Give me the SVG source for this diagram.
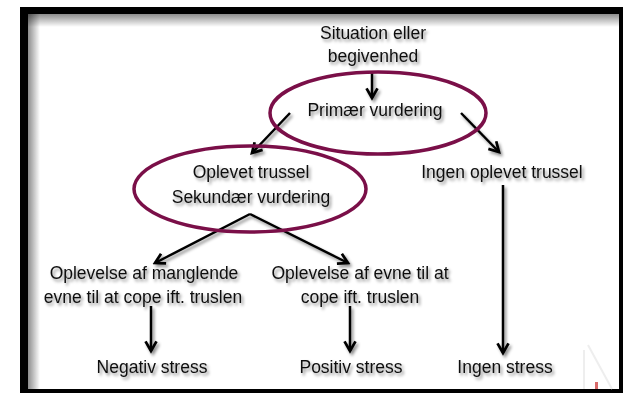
<svg xmlns="http://www.w3.org/2000/svg" width="623" height="393" viewBox="0 0 623 393">
<style>
text{font-family:"Liberation Sans",Arial,sans-serif;font-size:17.5px;fill:#111;text-anchor:middle}
.lbl{filter:url(#sh)}
.ell{fill:none;stroke:#7a0f48;stroke-width:3.5}
.con line{stroke:#000;stroke-width:2.5;marker-end:url(#ah)}
</style>
<defs>
<filter id="sh" x="-20%" y="-40%" width="140%" height="180%">
<feDropShadow dx="2" dy="2.5" stdDeviation="1.6" flood-color="#000" flood-opacity="0.45"/>
</filter>
<marker id="ah" viewBox="0 0 10 10" refX="8" refY="5" markerWidth="5.5" markerHeight="5.5" orient="auto" markerUnits="strokeWidth">
<path d="M1,1 L8,5 L1,9" fill="none" stroke="#000" stroke-width="2"/>
</marker>
<linearGradient id="gt" x1="0" y1="0" x2="0" y2="1">
<stop offset="0" stop-color="#000" stop-opacity="0.45"/>
<stop offset="1" stop-color="#000" stop-opacity="0"/>
</linearGradient>
<linearGradient id="gl" x1="0" y1="0" x2="1" y2="0">
<stop offset="0" stop-color="#000" stop-opacity="0.45"/>
<stop offset="1" stop-color="#000" stop-opacity="0"/>
</linearGradient>
</defs>
<rect x="0" y="0" width="623" height="393" fill="#fff"/>
<g id="frame">
<rect x="20" y="7" width="603" height="386" fill="#000"/>
<rect x="28" y="14" width="591" height="375" fill="#fff"/>
<rect x="28" y="14" width="591" height="13" fill="url(#gt)"/>
<rect x="28" y="14" width="12" height="375" fill="url(#gl)"/>
<path d="M588,345 L612,389 M584,350 L584,389" stroke="#eee" stroke-width="2" fill="none"/>
<rect x="595" y="382" width="3" height="7" fill="#d86a6a"/>
</g>
<g class="con" id="connectors" filter="url(#sh)">
<line x1="372" y1="72" x2="372" y2="98"/>
<line x1="290" y1="113" x2="252" y2="153"/>
<line x1="461" y1="113" x2="499" y2="152"/>
<line x1="503" y1="185" x2="503" y2="353"/>
<line x1="250" y1="214" x2="155" y2="263"/>
<line x1="250" y1="214" x2="348" y2="263"/>
<line x1="151" y1="306" x2="151" y2="351"/>
<line x1="350" y1="306" x2="350" y2="351"/>
</g>
<g id="n-situation" class="lbl"><text x="373" y="39">Situation eller</text><text x="373" y="62">begivenhed</text></g>
<g id="n-primaer"><ellipse class="ell" cx="378" cy="113" rx="108" ry="41"/><text class="lbl" x="375" y="116">Primær vurdering</text></g>
<g id="n-sekundaer"><ellipse class="ell" cx="250" cy="189" rx="116" ry="43"/><text class="lbl" x="251" y="178">Oplevet trussel</text><text class="lbl" x="251" y="203">Sekundær vurdering</text></g>
<g id="n-ingen-trussel" class="lbl"><text x="502" y="178">Ingen oplevet trussel</text></g>
<g id="n-manglende" class="lbl"><text x="144" y="279">Oplevelse af manglende</text><text x="143" y="303">evne til at cope ift. truslen</text></g>
<g id="n-evne" class="lbl"><text x="360" y="279">Oplevelse af evne til at</text><text x="360" y="303">cope ift. truslen</text></g>
<g id="n-negativ" class="lbl"><text x="152" y="373">Negativ stress</text></g>
<g id="n-positiv" class="lbl"><text x="351" y="373">Positiv stress</text></g>
<g id="n-ingen-stress" class="lbl"><text x="505" y="373">Ingen stress</text></g>
</svg>
